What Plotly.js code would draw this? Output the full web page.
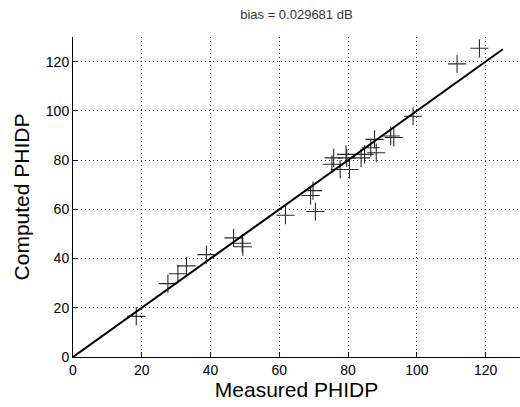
<!DOCTYPE html>
<html>
<head>
<meta charset="utf-8">
<script src="https://cdn.plot.ly/plotly-3.0.1.min.js"></script>
<style>html,body{margin:0;padding:0;background:#fff;}#chart{width:520px;height:407px;}</style>
</head>
<body>
<div id="chart"></div>
<script>
const measured = [18.4, 27.6, 30.5, 33.0, 38.8, 46.7, 49.2, 49.4, 61.8, 69.1, 69.8, 70.5, 75.3, 75.8, 77.7, 79.4, 79.6, 80.4, 83.8, 84.8, 86.6, 87.7, 88.2, 92.4, 93.3, 98.9, 111.7, 118.2];
const computed = [16.5, 29.8, 33.8, 37.0, 41.6, 48.4, 46.2, 44.8, 57.6, 65.6, 67.6, 59.1, 78.3, 80.9, 76.2, 82.3, 80.9, 76.2, 80.9, 82.3, 85.0, 88.4, 83.0, 89.8, 89.2, 97.8, 119.1, 125.4];
const fitX = [0, 125];
const fitY = [0, 125];
const tickVals = [0, 20, 40, 60, 80, 100, 120];
const titleText = "bias = 0.029681 dB";

const font = "Liberation Sans, Arial, sans-serif";
const data = [
  {x: measured, y: computed, type: "scatter", mode: "markers",
   marker: {symbol: "cross-thin", size: 13, line: {width: 1.1, color: "#2a2a2a"}, color: "#2a2a2a"},
   hoverinfo: "x+y", showlegend: false},
  {x: fitX, y: fitY, type: "scatter", mode: "lines",
   line: {color: "#000", width: 2}, showlegend: false}
];
const axisCommon = {
  range: [0, 130], tickvals: tickVals, ticks: "inside", ticklen: 5, tickcolor: "#000",
  showline: true, linecolor: "#000", linewidth: 1, zeroline: false,
  showgrid: true, gridcolor: "#333", griddash: "1px,3px", gridwidth: 1,
  tickfont: {family: font, size: 14, color: "#000"}
};
const layout = {
  width: 520, height: 407,
  margin: {l: 73, r: 0, t: 37, b: 50},
  paper_bgcolor: "#fff", plot_bgcolor: "#fff",
  title: {text: titleText, font: {family: font, size: 13, color: "#333"}, x: 0.57, xanchor: "center", y: 0.975, yanchor: "top"},
  xaxis: Object.assign({}, axisCommon, {title: {text: "Measured PHIDP", font: {family: font, size: 21, color: "#000"}, standoff: 4}}),
  yaxis: Object.assign({}, axisCommon, {title: {text: "Computed PHIDP", font: {family: font, size: 21, color: "#000"}, standoff: 10}})
};
Plotly.newPlot("chart", data, layout, {staticPlot: true, displayModeBar: false});
</script>
</body>
</html>
